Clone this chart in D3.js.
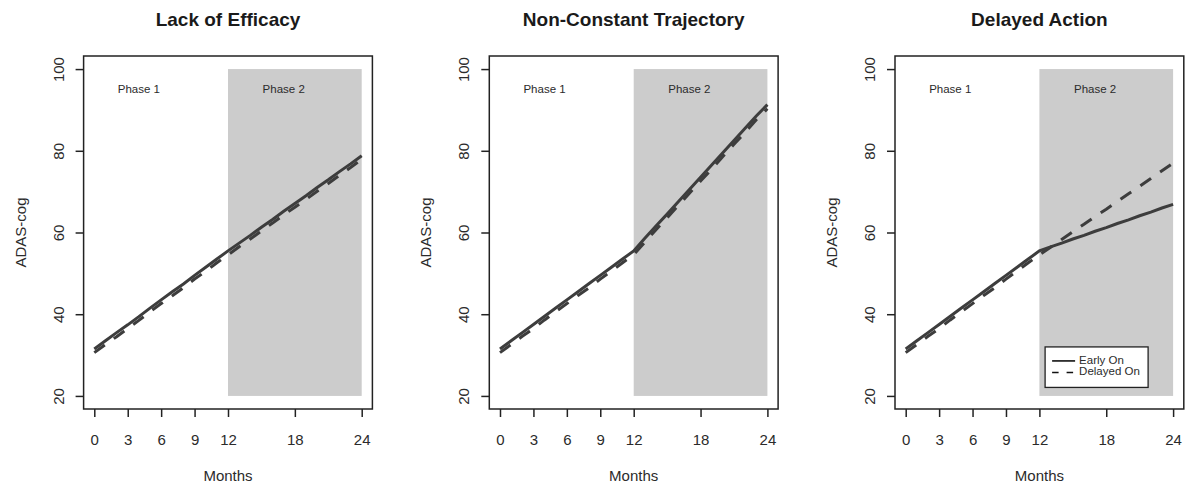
<!DOCTYPE html>
<html>
<head>
<meta charset="utf-8">
<script src="https://cdn.jsdelivr.net/npm/d3@7"></script>
<style>
  body { margin: 0; background: #fff; }
  svg { display: block; font-family: "Liberation Sans", Arial, sans-serif; }
</style>
</head>
<body>
<script>
// months observed, and tick labels
const months = d3.range(0, 25);
const xTicks = [0, 3, 6, 9, 12, 18, 24];
const yTicks = [20, 40, 60, 80, 100];

const titles = ['Lack of Efficacy', 'Non-Constant Trajectory', 'Delayed Action'];
const seriesNames = ['Early On', 'Delayed On'];

// ADAS-cog, month 0..24
const lackEarly   = [31.5,33.5,35.5,37.4,39.4,41.5,43.5,45.5,47.4,49.5,51.5,53.5,55.5,57.4,59.3,61.3,63.2,65.2,67.1,69.0,71.0,72.9,74.9,76.8,78.8];
const lackDelayed = [30.6,32.6,34.5,36.5,38.5,40.6,42.6,44.5,46.5,48.6,50.5,52.6,54.5,56.5,58.4,60.4,62.3,64.3,66.2,68.1,70.1,72.0,74.0,75.9,77.9];

const ncEarly   = [31.5,33.5,35.5,37.5,39.5,41.5,43.5,45.5,47.5,49.5,51.5,53.5,55.5,58.6,61.6,64.5,67.5,70.5,73.5,76.5,79.5,82.5,85.5,88.5,91.3];
const ncDelayed = [30.6,32.6,34.6,36.5,38.6,40.6,42.6,44.6,46.5,48.6,50.6,52.6,54.6,57.6,60.7,63.6,66.6,69.6,72.6,75.5,78.6,81.6,84.5,87.6,90.3];

const daEarly   = [31.5,33.5,35.5,37.5,39.5,41.5,43.5,45.5,47.5,49.5,51.5,53.5,55.5,56.5,57.4,58.4,59.3,60.3,61.2,62.2,63.1,64.1,65.0,66.0,66.9];
const daDelayed = [30.6,32.6,34.6,36.5,38.6,40.6,42.6,44.6,46.5,48.6,50.6,52.6,54.5,56.4,58.3,60.2,62.0,63.9,65.7,67.6,69.5,71.3,73.2,75.1,77.0];

const panels = [
  { title: titles[0], early: lackEarly, delayed: lackDelayed, legend: false },
  { title: titles[1], early: ncEarly,   delayed: ncDelayed,   legend: false },
  { title: titles[2], early: daEarly,   delayed: daDelayed,   legend: true }
];

const W = 1188, H = 487;
const panelStep = 405.7;
const lineCol = '#3d3d3d';
const textCol = '#2b2b2b';

const svg = d3.select('body').append('svg')
    .attr('width', W)
    .attr('height', H);

panels.forEach((p, i) => {
  const off = i * panelStep;
  const left = 83.6 + off, right = 372.4 + off;
  const top = 56, bottom = 409;

  // R style: 4% padding around data range
  const x = d3.scaleLinear().domain([-0.96, 24.96]).range([left, right]);
  const y = d3.scaleLinear().domain([16.8, 103.2]).range([bottom, top]);

  const g = svg.append('g');

  // phase 2 shading
  g.append('rect')
    .attr('x', x(12))
    .attr('y', y(100))
    .attr('width', x(24) - x(12))
    .attr('height', y(20) - y(100))
    .attr('fill', '#cccccc');

  g.append('text')
    .attr('x', x(4)).attr('y', y(95))
    .attr('text-anchor', 'middle')
    .attr('dominant-baseline', 'middle')
    .attr('font-size', 11.5)
    .attr('fill', textCol)
    .text('Phase 1');

  g.append('text')
    .attr('x', x(17)).attr('y', y(95))
    .attr('text-anchor', 'middle')
    .attr('dominant-baseline', 'middle')
    .attr('font-size', 11.5)
    .attr('fill', textCol)
    .text('Phase 2');

  const line = d3.line()
    .x((d, j) => x(months[j]))
    .y(d => y(d));

  g.append('path')
    .datum(p.delayed)
    .attr('d', line)
    .attr('fill', 'none')
    .attr('stroke', lineCol)
    .attr('stroke-width', 3)
    .attr('stroke-dasharray', '13,11');

  g.append('path')
    .datum(p.early)
    .attr('d', line)
    .attr('fill', 'none')
    .attr('stroke', lineCol)
    .attr('stroke-width', 3);

  // box
  g.append('rect')
    .attr('x', left).attr('y', top)
    .attr('width', right - left).attr('height', bottom - top)
    .attr('fill', 'none')
    .attr('stroke', '#222')
    .attr('stroke-width', 1.5);

  // x axis
  const xa = g.append('g')
    .attr('transform', `translate(0,${bottom})`)
    .call(d3.axisBottom(x).tickValues(xTicks).tickSize(8).tickSizeOuter(0).tickPadding(17));
  xa.select('.domain').remove();
  xa.selectAll('line').attr('stroke', '#222').attr('stroke-width', 1.5);
  xa.selectAll('text').attr('font-size', 15).attr('fill', textCol)
    .attr('font-family', '"Liberation Sans", Arial, sans-serif');

  // y axis, labels turned like R's las=0
  const ya = g.append('g')
    .attr('transform', `translate(${left},0)`)
    .call(d3.axisLeft(y).tickValues(yTicks).tickSize(8).tickSizeOuter(0));
  ya.select('.domain').remove();
  ya.selectAll('line').attr('stroke', '#222').attr('stroke-width', 1.5);
  ya.selectAll('text')
    .attr('x', 0).attr('y', 0).attr('dy', null)
    .attr('text-anchor', 'middle')
    .attr('transform', 'translate(-20,0) rotate(-90)')
    .attr('font-size', 15).attr('fill', textCol)
    .attr('font-family', '"Liberation Sans", Arial, sans-serif');

  // titles and axis names
  svg.append('text')
    .attr('x', (left + right) / 2).attr('y', 26)
    .attr('text-anchor', 'middle')
    .attr('font-size', 19)
    .attr('font-weight', 'bold')
    .attr('fill', '#1a1a1a')
    .text(p.title);

  svg.append('text')
    .attr('x', (left + right) / 2).attr('y', 481)
    .attr('text-anchor', 'middle')
    .attr('font-size', 15)
    .attr('fill', textCol)
    .text('Months');

  svg.append('text')
    .attr('transform', `translate(${left - 58},${(top + bottom) / 2}) rotate(-90)`)
    .attr('text-anchor', 'middle')
    .attr('font-size', 15)
    .attr('fill', textCol)
    .text('ADAS-cog');

  if (p.legend) {
    const lx = x(24) - 128, ly = y(20) - 49;
    const lg = g.append('g').attr('transform', `translate(${lx},${ly})`);
    lg.append('rect')
      .attr('width', 103).attr('height', 40.5)
      .attr('fill', '#fff')
      .attr('stroke', '#222')
      .attr('stroke-width', 1.3);
    seriesNames.forEach((name, k) => {
      const yy = 14 + k * 11.5;
      lg.append('line')
        .attr('x1', 7).attr('x2', 30)
        .attr('y1', yy).attr('y2', yy)
        .attr('stroke', '#111')
        .attr('stroke-width', 1.6)
        .attr('stroke-dasharray', k === 1 ? '6.5,8' : null);
      lg.append('text')
        .attr('x', 34).attr('y', yy)
        .attr('dominant-baseline', 'middle')
        .attr('font-size', 11.5)
        .attr('fill', textCol)
        .text(name);
    });
  }
});
</script>
</body>
</html>
